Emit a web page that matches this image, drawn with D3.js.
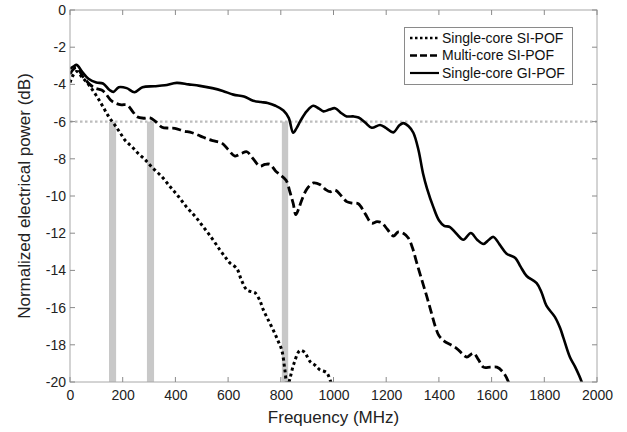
<!DOCTYPE html>
<html>
<head>
<meta charset="utf-8">
<script src="https://cdn.jsdelivr.net/npm/d3@7"></script>
<style>
  html, body { margin: 0; padding: 0; background: #fff; }
  svg { display: block; font-family: "Liberation Sans", Arial, sans-serif; }
</style>
</head>
<body>
<svg id="chart" width="627" height="432"></svg>
<script>
// ---------- data ----------
const xTicks = [0, 200, 400, 600, 800, 1000, 1200, 1400, 1600, 1800, 2000];
const yTicks = [0, -2, -4, -6, -8, -10, -12, -14, -16, -18, -20];
const seriesNames = ["Single-core SI-POF", "Multi-core SI-POF", "Single-core GI-POF"];
const threshold = -6;
const bandRanges = [[148, 175], [292, 319], [804, 828]];

const singleCoreSI = [
  [0,-3.9],[12,-3.5],[25,-3.3],[45,-3.6],[70,-4.0],[95,-4.5],[115,-4.95],[133,-5.4],[150,-5.8],
  [171,-6.2],[190,-6.6],[209,-7.0],[235,-7.35],[258,-7.7],[285,-8.05],[311,-8.45],[349,-8.97],
  [380,-9.5],[410,-10.0],[443,-10.6],[475,-11.1],[506,-11.66],[540,-12.3],[569,-12.9],[590,-13.3],
  [607,-13.6],[633,-13.9],[650,-14.5],[671,-15.05],[690,-15.15],[702,-15.2],[720,-15.6],[733,-16.1],
  [750,-16.6],[771,-17.2],[790,-17.8],[804,-18.3],[815,-19.3],[825,-20.3],[835,-19.8],[850,-19.0],
  [873,-18.3],[890,-18.4],[911,-18.9],[930,-19.1],[949,-19.35],[974,-19.5],[987,-19.9],[995,-20.2]
];
const multiCoreSI = [
  [0,-3.45],[12,-3.2],[25,-3.1],[50,-3.6],[75,-4.0],[95,-4.2],[120,-4.3],[133,-4.45],[155,-4.85],
  [171,-5.0],[195,-5.1],[216,-5.1],[240,-5.5],[254,-5.74],[280,-5.82],[304,-5.8],[325,-6.0],
  [349,-6.3],[375,-6.35],[398,-6.36],[430,-6.5],[463,-6.6],[495,-6.78],[524,-6.95],[550,-7.05],
  [576,-7.15],[600,-7.5],[626,-7.85],[652,-7.7],[671,-7.62],[695,-8.0],[721,-8.4],[740,-8.3],
  [759,-8.3],[780,-8.65],[797,-8.85],[820,-9.15],[835,-9.8],[847,-10.4],[857,-11.0],[870,-10.6],
  [880,-10.2],[900,-9.6],[924,-9.3],[950,-9.4],[970,-9.65],[987,-9.77],[1006,-9.68],[1030,-10.0],
  [1050,-10.3],[1070,-10.38],[1094,-10.42],[1120,-10.95],[1145,-11.46],[1165,-11.38],[1183,-11.44],
  [1205,-11.8],[1227,-12.15],[1246,-11.93],[1265,-12.0],[1284,-12.26],[1300,-12.8],[1316,-13.6],
  [1335,-14.5],[1354,-15.4],[1370,-16.2],[1386,-17.0],[1400,-17.5],[1420,-17.8],[1445,-18.0],
  [1468,-18.2],[1490,-18.5],[1506,-18.66],[1531,-18.45],[1550,-18.8],[1569,-19.2],[1595,-19.2],
  [1620,-19.2],[1645,-19.5],[1664,-20.0],[1670,-20.3]
];
const singleCoreGI = [
  [0,-3.15],[12,-3.05],[25,-2.95],[45,-3.3],[70,-3.7],[100,-3.9],[125,-3.95],[150,-4.3],[165,-4.4],
  [185,-4.15],[215,-4.2],[245,-4.42],[275,-4.15],[320,-4.1],[360,-4.05],[405,-3.92],[450,-4.0],
  [493,-4.08],[540,-4.2],[580,-4.35],[620,-4.55],[660,-4.65],[695,-4.88],[725,-4.95],[750,-5.0],
  [780,-5.15],[810,-5.4],[830,-5.8],[847,-6.6],[860,-6.35],[875,-5.95],[898,-5.45],[923,-5.15],
  [945,-5.3],[962,-5.45],[985,-5.35],[1006,-5.28],[1030,-5.55],[1050,-5.72],[1075,-5.72],
  [1095,-5.78],[1120,-6.05],[1145,-6.33],[1177,-6.18],[1200,-6.35],[1227,-6.58],[1250,-6.2],
  [1265,-6.08],[1285,-6.25],[1303,-6.6],[1322,-7.5],[1340,-8.8],[1355,-9.6],[1379,-10.6],
  [1400,-11.3],[1420,-11.6],[1442,-11.67],[1465,-12.0],[1493,-12.35],[1521,-11.99],[1545,-12.35],
  [1569,-12.58],[1590,-12.35],[1607,-12.2],[1630,-12.6],[1657,-13.1],[1690,-13.33],[1710,-13.8],
  [1733,-14.3],[1771,-14.68],[1790,-15.2],[1808,-15.9],[1840,-16.5],[1860,-17.1],[1872,-17.6],
  [1897,-18.66],[1917,-19.19],[1942,-20.0],[1946,-20.2]
];

// ---------- layout ----------
const svg = d3.select("#chart");
const L = 70, R = 597, T = 10, B = 382;
const x = d3.scaleLinear().domain([0, 2000]).range([L, R]);
const y = d3.scaleLinear().domain([-20, 0]).range([B, T]);

svg.append("defs").append("clipPath").attr("id", "clip")
  .append("rect").attr("x", L).attr("y", T).attr("width", R - L).attr("height", B - T);

const plot = svg.append("g").attr("clip-path", "url(#clip)");

// grey bandwidth bars
plot.selectAll("rect.band").data(bandRanges).enter().append("rect")
  .attr("class", "band")
  .attr("x", d => x(d[0]))
  .attr("width", d => x(d[1]) - x(d[0]))
  .attr("y", y(threshold))
  .attr("height", y(-20) - y(threshold))
  .attr("fill", "#c8c8c8");

// -6 dB threshold line
plot.append("line")
  .attr("x1", x(0)).attr("x2", x(2000))
  .attr("y1", y(threshold)).attr("y2", y(threshold))
  .attr("stroke", "#bdbdbd").attr("stroke-width", 2.2)
  .attr("stroke-dasharray", "2.5,2.5");

const line = d3.line().x(d => x(d[0])).y(d => y(d[1])).curve(d3.curveCatmullRom.alpha(0.5));

const styles = [
  { data: singleCoreSI, dash: "3,3", width: 3 },
  { data: multiCoreSI, dash: "9,4", width: 2.8 },
  { data: singleCoreGI, dash: null, width: 2.6 }
];
styles.forEach(s => {
  plot.append("path").datum(s.data)
    .attr("d", line)
    .attr("fill", "none")
    .attr("stroke", "#000")
    .attr("stroke-width", s.width)
    .attr("stroke-dasharray", s.dash);
});

// ---------- axes / frame ----------
const frameColor = "#a8a8a8";
const tickLen = 5;
const fmt = d => String(d);
const axisX = d3.axisBottom(x).tickValues(xTicks).tickSize(0).tickPadding(8).tickFormat(fmt);
const gx = svg.append("g").attr("transform", `translate(0,${B})`).call(axisX);
gx.select(".domain").remove();
gx.selectAll("text").attr("font-size", 14).attr("fill", "#222")
  .attr("font-family", "'Liberation Sans', Arial, sans-serif");

const axisY = d3.axisLeft(y).tickValues(yTicks).tickSize(0).tickPadding(4).tickFormat(fmt);
const gy = svg.append("g").attr("transform", `translate(${L},0)`).call(axisY);
gy.select(".domain").remove();
gy.selectAll("text").attr("font-size", 14).attr("fill", "#222")
  .attr("font-family", "'Liberation Sans', Arial, sans-serif");

// frame
svg.append("rect").attr("x", L).attr("y", T).attr("width", R - L).attr("height", B - T)
  .attr("fill", "none").attr("stroke", frameColor).attr("stroke-width", 1);

// inward ticks on all four sides
const ticks = svg.append("g").attr("stroke", "#8a8a8a").attr("stroke-width", 1);
xTicks.forEach(v => {
  ticks.append("line").attr("x1", x(v)).attr("x2", x(v)).attr("y1", B).attr("y2", B - tickLen);
  ticks.append("line").attr("x1", x(v)).attr("x2", x(v)).attr("y1", T).attr("y2", T + tickLen);
});
yTicks.forEach(v => {
  ticks.append("line").attr("x1", L).attr("x2", L + tickLen).attr("y1", y(v)).attr("y2", y(v));
  ticks.append("line").attr("x1", R).attr("x2", R - tickLen).attr("y1", y(v)).attr("y2", y(v));
});

// axis titles
svg.append("text").attr("x", (L + R) / 2).attr("y", 423)
  .attr("text-anchor", "middle").attr("font-size", 17).attr("fill", "#222")
  .text("Frequency (MHz)");
svg.append("text")
  .attr("transform", `translate(30,${(T + B) / 2}) rotate(-90)`)
  .attr("text-anchor", "middle").attr("font-size", 17).attr("fill", "#222")
  .text("Normalized electrical power (dB)");

// ---------- legend ----------
const lg = svg.append("g");
lg.append("rect").attr("x", 404.5).attr("y", 27.5).attr("width", 168).attr("height", 57)
  .attr("fill", "#fff").attr("stroke", "#8a8a8a").attr("stroke-width", 1);
styles.forEach((s, i) => {
  const yy = 38 + i * 17.5;
  lg.append("line").attr("x1", 410).attr("x2", 439).attr("y1", yy).attr("y2", yy)
    .attr("stroke", "#000").attr("stroke-width", s.width - 0.4)
    .attr("stroke-dasharray", i === 0 ? "2.5,2.5" : (i === 1 ? "7,3" : null));
  lg.append("text").attr("x", 442).attr("y", yy).attr("dy", "0.35em")
    .attr("font-size", 14).attr("fill", "#111").text(seriesNames[i]);
});
</script>
</body>
</html>
